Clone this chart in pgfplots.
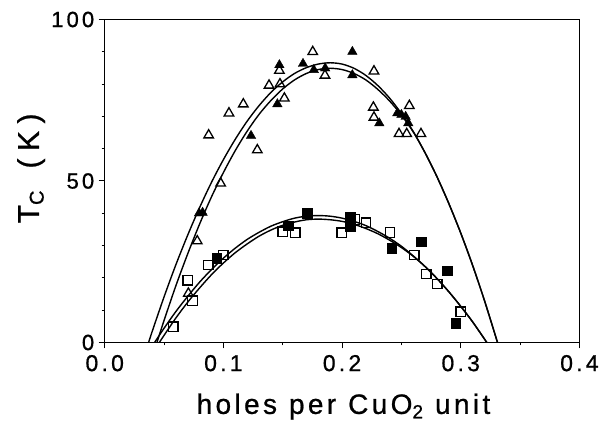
\documentclass[border=0pt]{standalone}
\usepackage{fontspec}
\setmainfont[LetterSpace=14, FakeBold=0.8]{Liberation Sans}
\newfontfamily\labfont[LetterSpace=12, FakeBold=0.8]{Liberation Sans}
\newfontfamily\ylabfont[LetterSpace=25, FakeBold=0.8]{Liberation Sans}
\usepackage{pgfplots}
\pgfplotsset{compat=1.18}

\begin{document}
\begin{tikzpicture}
\path[use as bounding box] (0,0) rectangle (600pt,423pt);
\begin{axis}[
  at={(104.7pt,80.5pt)}, anchor=south west,
  scale only axis, width=474.7pt, height=323pt,
  xmin=0, xmax=0.4, ymin=0, ymax=100,
  xtick={0,0.1,0.2,0.3,0.4}, minor xtick={0.05,0.15,0.25,0.35},
  xticklabels={0.0,0.1,0.2,0.3,0.4},
  ytick={0,50,100}, minor ytick={10,20,30,40,60,70,80,90},
  tick pos=left, tick align=outside,
  major tick length=6pt, minor tick length=3pt,
  every tick/.style={black, line width=1pt},
  axis line style={line width=1.2pt},
  /pgf/number format/assume math mode=true,
  xticklabel style={font=\fontsize{23}{23}\selectfont, yshift=-3pt},
  yticklabel style={font=\fontsize{22}{22}\selectfont, xshift=-1pt},
  xlabel={holes\hspace{12pt}per\hspace{12pt}CuO\raisebox{-0.3ex}{\fontsize{19}{19}\selectfont 2}\hspace{12pt}unit},
  xlabel style={font=\labfont\fontsize{28}{28}\selectfont, anchor=base, at={(axis description cs:0.503,-0.221)}},
  ylabel={T\raisebox{-0.3ex}{\fontsize{20}{20}\selectfont C}\hspace{22pt}(K)},
  ylabel style={font=\ylabfont\fontsize{30}{30}\selectfont, anchor=center, at={(axis description cs:-0.155,0.539)}},
  clip=true,
]
% fitted curves, triangles (outer / inner)
\addplot[black, line width=1.4pt, smooth] coordinates {
 (0.037,0) (0.04,3.4) (0.05,14.1) (0.06,24.1) (0.07,33.3) (0.08,41.8)
 (0.09,49.6) (0.1,56.6) (0.11,62.9) (0.12,68.5) (0.13,73.3) (0.14,77.4)
 (0.15,80.7) (0.16,83.3) (0.17,85.1) (0.18,86.2) (0.19,86.6) (0.2,86.2)
 (0.21,84.9) (0.22,82.7) (0.23,79.6) (0.24,75.7) (0.25,70.9) (0.26,65.3)
 (0.27,58.7) (0.28,51.3) (0.29,43.0) (0.3,33.9) (0.31,23.9) (0.32,13.0)
 (0.331,0)};
\addplot[black, line width=1.4pt, smooth] coordinates {
 (0.044,0) (0.05,6.8) (0.06,17.6) (0.07,27.5) (0.08,36.7) (0.09,45.1)
 (0.1,52.6) (0.11,59.4) (0.12,65.4) (0.13,70.6) (0.14,74.9) (0.15,78.5)
 (0.16,81.3) (0.17,83.3) (0.18,84.5) (0.19,84.9) (0.2,84.5) (0.21,83.3)
 (0.22,81.3) (0.23,78.4) (0.24,74.8) (0.25,70.4) (0.26,65.2) (0.27,58.7)
 (0.28,51.3) (0.29,43.0) (0.3,33.9) (0.31,23.9) (0.32,13.0) (0.331,0)};
% fitted curves, squares
\addplot[black, line width=1.4pt, smooth] coordinates {
 (0.042,0) (0.05,4.4) (0.06,9.6) (0.07,14.3) (0.08,18.7) (0.09,22.6)
 (0.1,26.1) (0.11,29.2) (0.12,31.9) (0.13,34.1) (0.14,36.0) (0.15,37.4)
 (0.16,38.5) (0.17,39.1) (0.18,39.3) (0.19,39.1) (0.2,38.5) (0.21,37.5)
 (0.22,36.2) (0.23,34.4) (0.24,32.3) (0.25,29.8) (0.26,26.8) (0.27,23.5)
 (0.28,19.8) (0.29,15.7) (0.3,11.2) (0.31,6.4) (0.322,0)};
\addplot[black, line width=1.4pt, smooth] coordinates {
 (0.046,0) (0.05,2.2) (0.06,7.6) (0.07,12.5) (0.08,16.9) (0.09,21.0)
 (0.1,24.6) (0.11,27.8) (0.12,30.5) (0.13,32.9) (0.14,34.8) (0.15,36.3)
 (0.16,37.3) (0.17,38.0) (0.18,38.2) (0.19,38.0) (0.2,37.5) (0.21,36.6)
 (0.22,35.3) (0.23,33.7) (0.24,31.7) (0.25,29.4) (0.26,26.7) (0.27,23.5)
 (0.28,19.8) (0.29,15.7) (0.3,11.2) (0.31,6.4) (0.322,0)};
% open triangles
\addplot[only marks, mark=triangle, mark size=5.5pt, mark options={black, line width=1.3pt}] coordinates {
 (0.0876,64.2) (0.1047,71.0) (0.1168,73.8) (0.1286,59.6) (0.1385,79.6)
 (0.1472,84.2) (0.1477,80.0) (0.1514,75.6) (0.1753,90.0) (0.1856,82.7)
 (0.0977,49.3) (0.0780,31.4) (0.0705,15.2) (0.2269,84.0) (0.2264,72.8)
 (0.2269,69.7) (0.2567,73.3) (0.2480,64.6) (0.2545,64.6) (0.2665,64.6)};
% filled triangles
\addplot[only marks, mark=triangle*, mark size=5.5pt, mark options={black}] coordinates {
 (0.1472,85.9) (0.1233,64.0) (0.1455,73.8) (0.1671,86.3) (0.1762,84.4)
 (0.1858,84.9) (0.2087,90.0) (0.2087,82.8) (0.2314,67.9) (0.2466,71.0)
 (0.2500,70.5) (0.2536,69.9) (0.2558,67.9) (0.0795,40.0) (0.0825,40.2)};
% open squares
\addplot[only marks, mark=square, mark size=4.8pt, mark options={black, line width=1.3pt}] coordinates {
 (0.0699,19.3) (0.0741,12.9) (0.0578,4.9) (0.0873,24.0) (0.0999,27.1)
 (0.1500,34.3) (0.1604,34.0) (0.1997,34.0) (0.2104,38.1) (0.2202,37.1)
 (0.2404,34.1) (0.2609,27.1) (0.2708,21.2) (0.2803,18.1) (0.3000,9.5)};
% filled squares
\addplot[only marks, mark=square*, mark size=4.8pt, mark options={black}] coordinates {
 (0.0944,26.1) (0.1547,36.2) (0.1707,40.0) (0.2067,38.9) (0.2067,35.9)
 (0.2418,29.2) (0.2668,31.2) (0.2887,22.2) (0.2958,5.9)};
\end{axis}
\end{tikzpicture}
\end{document}
